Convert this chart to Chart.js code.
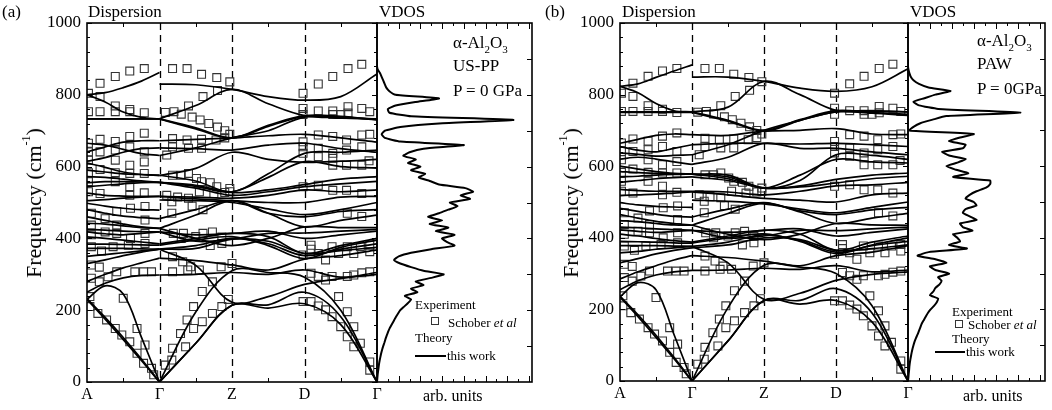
<!DOCTYPE html>
<html>
<head>
<meta charset="utf-8">
<script src="https://cdn.jsdelivr.net/npm/chart.js@4.4.1/dist/chart.umd.min.js"></script>
<style>
  body { margin: 0; width: 1052px; height: 410px; background: #fff; position: relative; overflow: hidden; font-family: "Liberation Serif", serif; color: #000; }
  canvas { position: absolute; top: 0; }
  .t { position: absolute; white-space: nowrap; line-height: 1; }
  .sub { font-size: 11px; position: relative; top: 5px; }
  .ytitle { position: absolute; white-space: nowrap; font-size: 22px; line-height: 1; transform: translate(-50%, -50%) rotate(-90deg); }
  .ytitle sup { font-size: 12px; position: relative; top: -3px; vertical-align: top; }
  .sq { position: absolute; width: 6px; height: 6px; border: 1.2px solid #333; }
  .ln { position: absolute; height: 2px; background: #000; }
</style>
</head>
<body>
<canvas id="dispA" width="392" height="410" style="left:0px"></canvas>
<canvas id="vdosA" width="175" height="410" style="left:367px"></canvas>
<canvas id="dispB" width="400" height="410" style="left:520px"></canvas>
<canvas id="vdosB" width="154" height="410" style="left:898px"></canvas>

<div class="t" style="left:2px;top:3px;font-size:17px">(a)</div>
<div class="t" style="left:88px;top:3px;font-size:17px">Dispersion</div>
<div class="t" style="left:379px;top:3px;font-size:17px">VDOS</div>
<div class="ytitle" style="left:34px;top:203px">Frequency (cm<sup>-1</sup>)</div>
<div class="t" style="left:453px;top:34px;font-size:17px">α-Al<span class="sub">2</span>O<span class="sub">3</span></div>
<div class="t" style="left:453px;top:57px;font-size:17px">US-PP</div>
<div class="t" style="left:453px;top:82px;font-size:17px">P = 0 GPa</div>
<div class="t" style="left:415px;top:298px;font-size:13px">Experiment</div>
<div class="sq" style="left:431px;top:317px"></div>
<div class="t" style="left:448px;top:316px;font-size:13px">Schober <i>et al</i></div>
<div class="t" style="left:415px;top:331px;font-size:13px">Theory</div>
<div class="ln" style="left:415px;top:355px;width:31px"></div>
<div class="t" style="left:447px;top:349px;font-size:13px">this work</div>
<div class="t" style="left:423px;top:388px;font-size:16px">arb. units</div>

<div class="t" style="left:545px;top:3px;font-size:17px">(b)</div>
<div class="t" style="left:622px;top:3px;font-size:17px">Dispersion</div>
<div class="t" style="left:910px;top:3px;font-size:17px">VDOS</div>
<div class="ytitle" style="left:571px;top:203px">Frequency (cm<sup>-1</sup>)</div>
<div class="t" style="left:977px;top:32px;font-size:17px">α-Al<span class="sub">2</span>O<span class="sub">3</span></div>
<div class="t" style="left:977px;top:55px;font-size:17px">PAW</div>
<div class="t" style="left:977px;top:80px;font-size:17px">P = 0GPa</div>
<div class="t" style="left:952px;top:305px;font-size:13px">Experiment</div>
<div class="sq" style="left:955px;top:320px"></div>
<div class="t" style="left:968px;top:318px;font-size:13px">Schober <i>et al</i></div>
<div class="t" style="left:952px;top:332px;font-size:13px">Theory</div>
<div class="ln" style="left:935px;top:351px;width:30px"></div>
<div class="t" style="left:966px;top:345px;font-size:13px">this work</div>
<div class="t" style="left:963px;top:388px;font-size:16px">arb. units</div>

<script>
// path coordinate: A=0, Γ=1, Z=2, D=3, Γ=4 ; Γ listed twice (LO-TO split)
const qPath = [0, 0.25, 0.5, 0.75, 1, 1, 1.5, 2, 2.5, 3, 3.5, 4];
const qTicks = [0, 1, 2, 3, 4];
const qLabels = ["A", "Γ", "Z", "D", "Γ"];

// (a) US-PP bands, frequency in cm-1 at qPath
const bandsA = [
  [800,806,820,838,862, 830,828,815,795,785,795,858],
  [800,780,752,737,733, 733,770,815,775,742,736,733],
  [733,733,733,733,733, 733,708,680,712,740,738,731],
  [733,733,733,733,733, 733,705,680,715,742,740,730],
  [641,655,668,672,672, 672,676,680,686,690,680,668],
  [665,660,648,636,631, 631,652,680,700,738,735,733],
  [615,625,640,650,652, 652,650,646,660,665,650,640],
  [610,598,585,578,575, 575,595,640,620,612,615,620],
  [590,585,580,578,576, 576,560,530,580,637,640,646],
  [572,570,565,560,556, 556,545,530,570,614,600,596],
  [555,558,558,557,556, 556,548,528,535,550,565,572],
  [544,548,552,555,556, 556,540,520,530,544,552,559],
  [526,520,518,517,517, 517,515,512,520,535,530,535],
  [505,508,512,515,517, 517,510,505,500,500,515,517],
  [498,490,484,480,479, 507,505,500,482,466,480,500],
  [480,470,462,458,455, 455,480,505,470,460,475,480],
  [460,450,440,432,428, 428,465,505,470,432,450,465],
  [442,440,435,430,428, 428,400,380,400,432,430,430],
  [425,423,420,419,418, 418,392,398,414,415,420,425],
  [418,413,410,414,418, 418,410,414,420,400,410,420],
  [404,400,395,390,385, 385,400,414,405,358,380,400],
  [384,384,383,382,381, 381,395,405,380,344,375,395],
  [372,372,372,371,370, 370,380,400,385,352,370,385],
  [350,355,360,365,370, 370,325,222,238,272,288,300],
  [330,340,352,362,370, 370,372,398,392,358,366,375],
  [250,275,290,297,298, 298,300,305,300,312,292,305],
  [230,268,245,125,0, 0,195,310,305,292,200,0],
  [230,175,118,60,0, 0,108,214,206,218,160,0],
  [232,180,124,64,0, 0,108,214,215,250,182,0],
  [280,300,318,332,345, 345,338,326,312,342,352,368]
];

// (b) PAW bands
const bandsB = [
  [823,830,848,866,883, 849,849,837,818,809,822,872],
  [823,805,775,755,752, 752,765,837,800,756,754,752],
  [752,752,752,752,752, 752,728,700,730,755,750,745],
  [750,750,750,750,750, 750,726,698,728,752,748,742],
  [664,675,686,690,688, 688,686,698,700,705,690,688],
  [637,633,628,630,632, 632,660,700,728,752,754,752],
  [655,645,640,650,660, 660,664,664,662,664,660,655],
  [620,625,620,612,605, 605,625,664,650,650,640,632],
  [600,592,585,580,578, 578,575,539,560,632,630,619],
  [585,582,580,578,578, 578,570,539,575,619,612,609],
  [570,572,575,577,578, 578,565,539,545,563,575,581],
  [555,560,565,568,570, 570,560,539,542,553,565,572],
  [535,532,530,530,530, 530,528,520,530,545,548,555],
  [518,520,522,525,528, 528,520,510,505,500,520,525],
  [498,492,488,486,485, 505,502,495,480,470,485,500],
  [482,474,466,460,458, 458,480,498,475,465,478,485],
  [465,455,446,440,435, 435,468,497,472,440,455,468],
  [448,445,440,436,435, 435,410,395,410,440,436,435],
  [430,428,425,423,421, 421,400,405,421,420,425,430],
  [422,418,415,418,421, 421,415,421,425,405,415,425],
  [410,405,398,392,388, 388,405,421,410,365,388,405],
  [390,389,388,386,385, 385,400,411,390,356,380,400],
  [378,378,378,377,376, 376,388,408,392,360,378,390],
  [358,362,368,372,376, 376,330,228,245,281,298,305],
  [330,342,355,365,372, 372,380,400,395,365,370,380],
  [255,280,296,305,309, 309,310,315,312,322,305,310],
  [235,275,255,130,0, 0,205,323,318,300,210,0],
  [235,180,122,62,0, 0,112,225,215,225,165,0],
  [237,185,128,66,0, 0,112,225,225,258,190,0],
  [285,305,322,338,350, 350,345,335,322,350,360,378]
];

// Schober et al experiment, [path coordinate, frequency]
const expPoints = [
  [0.02,804],[0.18,832],[0.39,851],[0.59,866],[0.79,873],[1.18,873],[1.38,873],[1.58,857],[1.79,848],[1.97,836],
  [1.60,795],[1.80,812],[0.18,795],[1.40,769],[2.98,804],[3.19,830],[3.39,851],[3.60,873],[3.79,885],
  [0.02,753],[0.18,753],[0.39,753],[0.59,753],[0.79,750],[0.39,769],[0.59,759],[1.08,751],[1.20,753],[1.30,746],
  [1.45,738],[1.56,730],[1.68,720],[1.80,710],[1.90,700],[1.97,690],[2.98,762],[2.98,745],[3.19,755],[3.39,755],
  [3.39,745],[3.60,767],[3.60,749],[3.79,762],[3.90,753],[3.50,745],
  [0.02,665],[0.18,676],[0.39,670],[0.59,684],[0.79,693],[0.02,641],[0.18,641],[0.39,646],[0.59,655],[0.79,641],
  [0.02,618],[0.39,618],[0.59,604],[0.79,613],[0.18,592],[0.02,583],[0.39,583],[0.59,581],[0.79,581],[0.02,558],
  [0.39,558],[0.59,544],[0.79,527],[0.02,530],[0.18,525],[0.59,520],
  [1.18,678],[1.18,655],[1.10,632],[1.38,674],[1.40,651],[1.58,676],[1.58,651],[1.78,674],[1.90,680],[1.18,576],
  [1.30,576],[1.40,581],[1.51,567],[1.58,558],[1.70,555],[1.79,544],[1.97,539],[1.97,530],[1.10,520],[1.25,515],
  [1.40,512],[1.55,530],[1.75,525],[1.90,528],
  [2.98,669],[2.98,655],[2.98,637],[3.19,688],[3.19,651],[3.19,628],[3.39,684],[3.39,637],[3.39,623],[3.58,674],
  [3.58,646],[3.79,688],[3.79,655],[3.89,616],[3.39,604],[3.58,604],[2.98,544],[3.19,548],[3.39,534],[3.58,534],
  [3.79,525],[3.79,604],[3.90,690],
  [0.04,210],[0.15,191],[0.27,173],[0.39,149],[0.48,131],[0.59,112],[0.69,80],[0.78,52],[0.89,38],[0.04,238],
  [0.50,233],[0.69,149],[0.80,103],[0.92,20],
  [1.08,47],[1.18,94],[1.29,135],[1.38,173],[1.47,210],[1.59,252],[1.73,279],[1.17,61],[1.36,98],[1.47,149],
  [1.59,168],[1.73,191],[1.86,210],[1.95,230],
  [2.98,224],[3.09,224],[3.19,212],[3.29,201],[3.38,182],[3.50,154],[3.59,126],[3.68,98],[3.90,56],[3.90,33],
  [3.47,238],[3.59,196],[3.68,154],[3.77,108],
  [3.09,303],[3.19,294],[3.29,284],[3.38,294],[3.59,294],[3.68,298],[3.79,304],[3.90,307],
  [2.98,354],[3.09,381],[3.19,358],[3.29,340],[3.38,377],[3.47,358],[3.59,377],[3.68,358],[3.77,377],[3.90,381],
  [3.90,363],[3.59,470],[3.79,461],[3.09,370],
  [0.06,326],[0.06,289],[0.17,279],[0.29,293],[0.41,307],[0.66,307],[0.78,307],[0.89,307],[0.17,320],[0.06,377],
  [0.36,377],[0.57,381],[0.80,386],[0.06,410],[0.25,418],[0.41,414],[0.80,414],[0.06,437],[0.41,437],[0.80,451],
  [0.06,470],[0.41,475],[0.60,484],[0.80,489],[0.20,365],[0.60,400],[0.25,455],
  [1.18,307],[1.39,312],[1.55,312],[1.85,321],[2.00,330],[1.32,335],[1.43,321],[1.18,349],[1.19,414],[1.33,414],
  [1.60,414],[1.73,418],[1.86,404],[1.86,386],[1.17,470],[1.17,502],[1.45,490],[1.60,480],[1.30,400],[1.50,405],
  [1.70,380]
];

// VDOS (arb. units, 0..1 of panel width) on a 10 cm-1 grid
const vdosFreq = [0,10,20,30,40,50,60,70,80,90,100,110,120,130,140,150,160,170,180,190,200,210,220,230,240,250,260,270,280,290,
  300,310,320,330,340,350,360,370,380,390,400,410,420,430,440,450,460,470,480,490,500,510,520,530,540,550,560,570,580,590,
  600,610,620,630,640,650,660,670,680,690,700,710,720,730,740,750,760,770,780,790,800,810,820,830,840,850,860,870,880,890,900];
const vdosA = [0,.002,.004,.007,.010,.013,.017,.022,.027,.033,.040,.048,.055,.063,.072,.082,.095,.108,.120,.135,
  .150,.175,.200,.220,.180,.260,.220,.300,.250,.350,.430,.300,.220,.150,.110,.140,.220,.350,.500,.450,
  .420,.500,.380,.460,.340,.420,.330,.400,.460,.520,.470,.600,.540,.620,.570,.400,.340,.270,.310,.220,
  .280,.200,.250,.170,.210,.300,.560,.150,.050,.030,.050,.150,.400,.880,.220,.080,.070,.120,.250,.400,
  .120,.080,.060,.050,.040,.030,.020,.005,0,0,0];
const vdosB = [0,.003,.005,.008,.010,.013,.017,.022,.027,.033,.040,.048,.058,.070,.080,.090,.100,.115,.130,.145,
  .165,.190,.210,.220,.160,.185,.200,.230,.245,.220,.300,.200,.160,.280,.200,.070,.150,.430,.300,.380,
  .360,.330,.470,.400,.380,.500,.450,.400,.420,.500,.480,.420,.450,.500,.570,.600,.600,.330,.440,.350,
  .280,.360,.420,.300,.250,.400,.420,.300,.380,.480,.010,.040,.090,.180,.280,.820,.220,.080,.040,.120,
  .200,.310,.150,.080,.040,.020,.010,.003,0,0,0];

Chart.defaults.font.family = "Liberation Serif";
Chart.defaults.color = "#000";

const framePlugin = {
  id: "frame",
  beforeDatasetsDraw(chart, args, o) {
    const { ctx, chartArea: a } = chart;
    const x = chart.scales.x;
    ctx.save();
    ctx.strokeStyle = "#000";
    ctx.lineWidth = 1.3;
    ctx.setLineDash([7, 5]);
    (o.dashX || []).forEach(v => {
      const px = Math.round(x.getPixelForValue(v)) + 0.5;
      ctx.beginPath();
      ctx.moveTo(px, a.top);
      ctx.lineTo(px, a.bottom);
      ctx.stroke();
    });
    ctx.restore();
  },
  afterDatasetsDraw(chart, args, o) {
    const { ctx, chartArea: a } = chart;
    const x = chart.scales.x, y = chart.scales.y;
    ctx.save();
    ctx.strokeStyle = "#000";
    ctx.lineWidth = 1;
    ctx.beginPath();
    (o.xTicks || []).forEach(([v, len]) => {
      const px = Math.round(x.getPixelForValue(v)) + 0.5;
      ctx.moveTo(px, a.bottom); ctx.lineTo(px, a.bottom - len);
      ctx.moveTo(px, a.top); ctx.lineTo(px, a.top + len);
    });
    (o.yTicks || []).forEach(([v, len]) => {
      const py = Math.round(y.getPixelForValue(v)) + 0.5;
      if (o.left) { ctx.moveTo(a.left, py); ctx.lineTo(a.left + len, py); }
      if (o.right) { ctx.moveTo(a.right, py); ctx.lineTo(a.right - len, py); }
    });
    ctx.stroke();
    ctx.lineWidth = 1.6;
    ctx.strokeRect(a.left, a.top, a.right - a.left, a.bottom - a.top);
    ctx.restore();
  }
};

function dispersionChart(id, bands, yWidth, xHeight, padRight) {
  const datasets = [];
  bands.forEach(b => {
    // split at Γ so the LO-TO jump stays a clean step
    [[0, 5], [5, 12]].forEach(([s, e]) => {
      datasets.push({
        data: qPath.slice(s, e).map((q, i) => ({ x: q, y: b[s + i] })),
        borderColor: "#000", borderWidth: 1.7, pointRadius: 0, tension: 0.35, fill: false
      });
    });
  });
  datasets.push({
    type: "scatter",
    data: expPoints.map(([q, f]) => ({ x: q, y: f })),
    pointStyle: "rect", pointRadius: 5.6, borderWidth: 1.1,
    borderColor: "#333", backgroundColor: "rgba(0,0,0,0)", showLine: false
  });
  const yTicks = [];
  for (let v = 0; v <= 1000; v += 40) yTicks.push([v, v % 200 === 0 ? 5 : 3]);
  new Chart(document.getElementById(id), {
    type: "line",
    data: { datasets },
    plugins: [framePlugin],
    options: {
      responsive: false, animation: false, events: [],
      layout: { padding: { top: 23, right: padRight, left: 0, bottom: 0 } },
      plugins: {
        legend: { display: false }, tooltip: { enabled: false },
        frame: { dashX: [1, 2, 3], xTicks: [[0.5, 4], [1.5, 4], [2.5, 4], [3.5, 4]], yTicks, left: true, right: true }
      },
      scales: {
        x: {
          type: "linear", min: 0, max: 4,
          afterFit: s => { s.height = xHeight; },
          afterBuildTicks: s => { s.ticks = qTicks.map(v => ({ value: v })); },
          ticks: { callback: v => qLabels[v], font: { size: 16 }, padding: 3, autoSkip: false, maxRotation: 0 },
          grid: { display: false, drawTicks: false }, border: { display: false }
        },
        y: {
          type: "linear", min: 0, max: 1000,
          afterFit: s => { s.width = yWidth; },
          ticks: { stepSize: 200, callback: v => String(v), font: { size: 17 }, padding: 6 },
          grid: { display: false, drawTicks: false }, border: { display: false }
        }
      }
    }
  });
}

function vdosChart(id, dos, padL, padR, padB, step) {
  const xTicks = [];
  for (let k = 1; k * step < 1; k++) xTicks.push([k * step, k % 2 === 0 ? 6 : 3]);
  const yTicks = [];
  for (let v = 100; v < 1000; v += 100) yTicks.push([v, 5]);
  new Chart(document.getElementById(id), {
    type: "line",
    data: {
      datasets: [{
        data: vdosFreq.map((f, i) => ({ x: dos[i], y: f })),
        borderColor: "#000", borderWidth: 2, pointRadius: 0, tension: 0.15, fill: false
      }]
    },
    plugins: [framePlugin],
    options: {
      responsive: false, animation: false, events: [], indexAxis: "y",
      layout: { padding: { top: 23, right: padR, left: padL, bottom: padB } },
      plugins: {
        legend: { display: false }, tooltip: { enabled: false },
        frame: { xTicks, yTicks, right: true }
      },
      scales: {
        x: { type: "linear", min: 0, max: 1, display: false },
        y: { type: "linear", min: 0, max: 1000, display: false }
      }
    }
  });
}

dispersionChart("dispA", bandsA, 87, 28, 15);
vdosChart("vdosA", vdosA, 10, 10, 28, 0.07);
dispersionChart("dispB", bandsB, 100, 29, 12);
vdosChart("vdosB", vdosB, 10, 7, 29, 0.08);
</script>
</body>
</html>
